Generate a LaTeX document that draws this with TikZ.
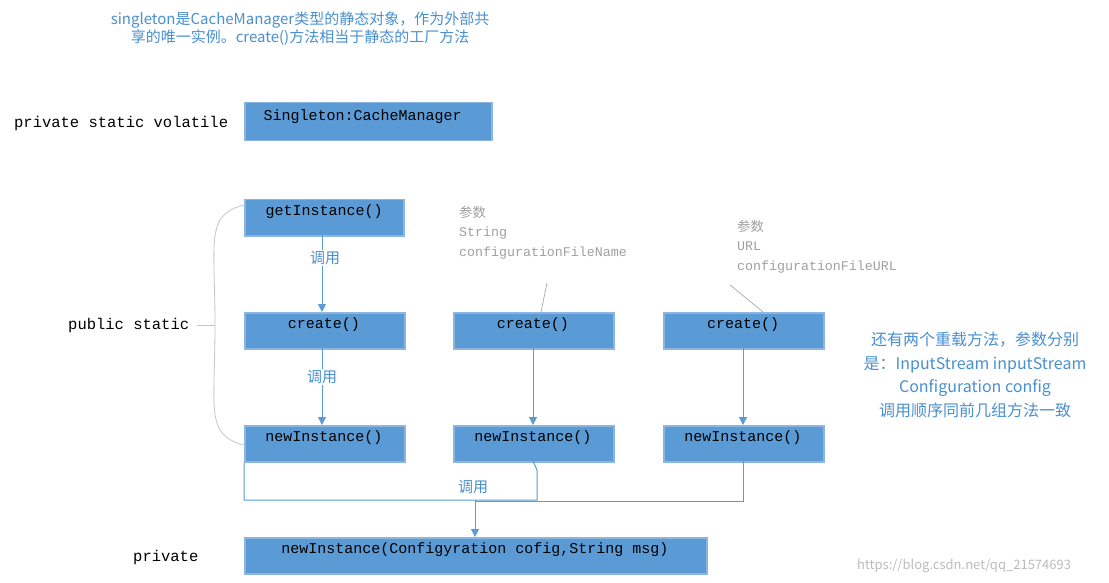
\documentclass[tikz,border=0pt]{standalone}
\usepackage{fontspec}
\setmainfont{Noto Sans CJK SC}
\newfontfamily\mono{Liberation Mono}
\usetikzlibrary{arrows.meta}
\definecolor{boxf}{HTML}{5B9BD5}
\definecolor{boxd}{HTML}{8CB6E0}
\definecolor{txtb}{HTML}{4A90D0}
\definecolor{lnb}{HTML}{5B9BD5}
\definecolor{gr}{HTML}{A0A0A0}
\tikzset{
 bx/.style={draw=boxd,line width=1.5pt,fill=boxf,anchor=north west,inner sep=0pt,font=\mono\fontsize{15}{15}\selectfont,text=black},
 lab/.style={font=\mono\fontsize{15.5}{16}\selectfont,anchor=west,inner sep=0pt},
 blu/.style={font=\fontsize{15}{18}\selectfont,text=txtb,inner sep=0pt},
 par/.style={font=\mono\fontsize{13.3}{19.5}\selectfont,text=gr,anchor=north west,align=left,inner sep=0pt},
 ar/.style={draw=lnb,line width=1pt,-{Triangle[length=8pt,width=8pt]}},
 ln/.style={draw=lnb,line width=1pt},
}
\begin{document}
\begin{tikzpicture}[x=1pt,y=-1pt]
\useasboundingbox[fill=white] (0,0) rectangle (1109,583);
\node[blu,align=center] (t1) at (300,29) {singleton是CacheManager类型的静态对象，作为外部共\\享的唯一实例。create()方法相当于静态的工厂方法};
\node[lab] (l1) at (14,123) {private static volatile};
\node[lab] (l2) at (68,325) {public static};
\node[lab] (l3) at (133,557) {private};
\node[bx,minimum width=247,minimum height=38] (s) at (244,102) {};
\node[font=\mono\fontsize{15}{15}\selectfont,anchor=west] at (260,117) {Singleton:CacheManager};
\node[bx,minimum width=159,minimum height=36] (g) at (244,199) {};
\node[font=\mono\fontsize{15}{15}\selectfont] at (g.center|-0,212) {getInstance()};
\foreach \n/\x in {1/244,2/453,3/663}{
 \node[bx,minimum width=160,minimum height=36] (c\n) at (\x,312) {};
 \node[font=\mono\fontsize{15}{15}\selectfont] at (\x+80,325) {create()};
 \node[bx,minimum width=160,minimum height=36] (n\n) at (\x,425) {};
 \node[font=\mono\fontsize{15}{15}\selectfont] at (\x+80,438) {newInstance()};
}
\node[bx,minimum width=462,minimum height=36] (b) at (244,537) {};
\node[font=\mono\fontsize{15}{15}\selectfont] at (475,550) {newInstance(Configyration cofig,String msg)};
\draw[ar] (322,235) -- (322,312);
\draw[ar] (322,348) -- (322,425);
\draw[ar] (533,348) -- (533,425);
\draw[ar] (743,348) -- (743,425);
\draw[ln] (n1.south west) -- (244,500) -- (537,500) -- (537,470) -- (533,461);
\draw[ln] (743,461) -- (743,501) -- (475,501);
\draw[ar] (475,500) -- (475,537);
\node[blu,fill=white,inner sep=1pt] at (325,258) {调用};
\node[blu,fill=white,inner sep=1pt] at (322,377) {调用};
\node[blu] at (473,487) {调用};
\node[par] (p1) at (459,206) {{\rmfamily 参数}\\String\\configurationFileName};
\node[par] (p2) at (737,220) {{\rmfamily 参数}\\URL\\configurationFileURL};
\draw[gr,line width=0.6pt] (547,283) -- (541,312);
\draw[gr,line width=0.6pt] (730,285) -- (763,312);
\draw[gr!60,line width=0.8pt] (244,205) .. controls (205,215) and (215,240) .. (215,325) .. controls (215,410) and (205,435) .. (244,445);
\draw[gr!60,line width=0.8pt] (197,325) -- (215,325);
\node[blu,align=center,font=\fontsize{16}{23.5}\selectfont] (r) at (975,375) {还有两个重载方法，参数分别\\是：InputStream inputStream\\Configuration config\\调用顺序同前几组方法一致};
\node[font=\fontsize{13}{13}\selectfont,text=gr!70,anchor=west,inner sep=0pt] at (857,566) {https://blog.csdn.net/qq\_21574693};
\end{tikzpicture}
\end{document}
